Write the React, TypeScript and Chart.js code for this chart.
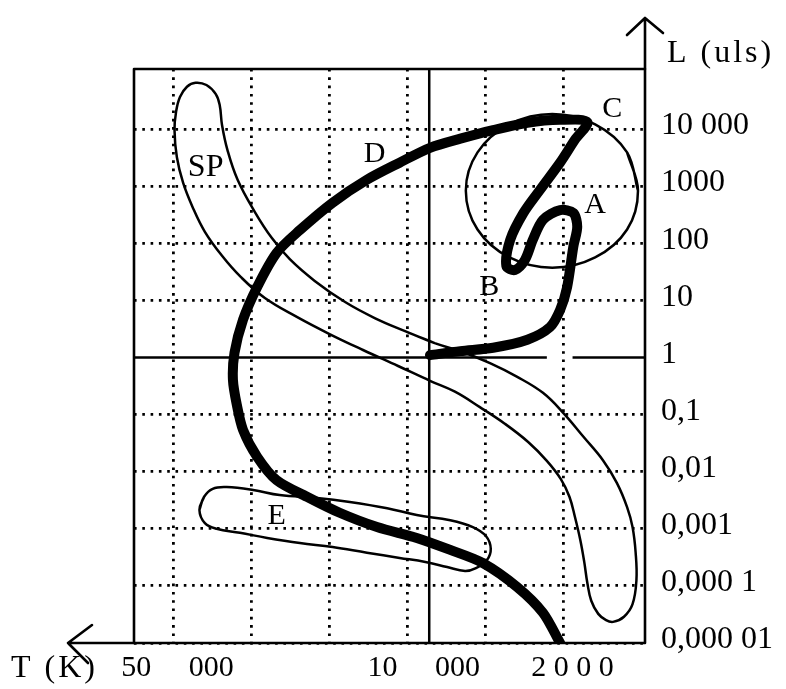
import React, { useEffect, useRef } from "react";
import { Chart, registerables } from "chart.js";

Chart.register(...registerables);

const FONT = "'Liberation Serif', 'Times New Roman', Times, serif";

// x: schematic temperature position (grid units, temperature decreasing to the right)
// y: log10 of luminosity L (solar units)
const xMin = -0.51;
const xMax = 6.05;
const yMin = -5;
const yMax = 5.05;

const xGridValues = [0, 1, 2, 3, 4, 5];
const xTickValues = [0.05, 3.21, 5.12];
const xTickLabels = ["50     000", "10     000", "2 0 0 0"];

const yTickValues = [-5, -4, -3, -2, -1, 0, 1, 2, 3, 4];
const yTickLabels = ["0,000 01", "0,000 1", "0,001", "0,01", "0,1", "1", "10", "100", "1000", "10 000"];

// thick evolutionary track (from the Sun point through A, B, C, D, E)
const evolutionTrack: number[][] = [
  [3.29, 0.04], [3.68, 0.11], [4.10, 0.17], [4.54, 0.31], [4.83, 0.53], [4.96, 0.83],
  [5.05, 1.23], [5.13, 1.94], [5.18, 2.29], [5.13, 2.53], [4.96, 2.58], [4.74, 2.41],
  [4.61, 2.06], [4.51, 1.71], [4.38, 1.53], [4.27, 1.60], [4.32, 2.06], [4.49, 2.53],
  [4.70, 2.93], [4.96, 3.41], [5.15, 3.81], [5.31, 4.12], [4.96, 4.16], [4.54, 4.11],
  [4.10, 3.98], [3.68, 3.83], [3.29, 3.67], [2.90, 3.41], [2.48, 3.11], [2.04, 2.71],
  [1.62, 2.23], [1.32, 1.83], [1.07, 1.23], [0.89, 0.66], [0.78, 0.08], [0.76, -0.39],
  [0.81, -0.83], [0.89, -1.27], [1.07, -1.74], [1.32, -2.15], [1.71, -2.44], [2.13, -2.72],
  [2.61, -2.97], [3.12, -3.16], [3.55, -3.37], [3.97, -3.60], [4.41, -4.02], [4.74, -4.47],
  [4.96, -5.0],
];

// SP band outline (closed)
const spBand: number[][] = [
  [3.35, 0.25], [2.97, 0.46], [2.58, 0.69], [2.20, 0.97], [1.81, 1.34], [1.49, 1.72],
  [1.26, 2.09], [1.04, 2.55], [0.82, 3.11], [0.69, 3.63], [0.62, 4.07], [0.59, 4.42],
  [0.54, 4.61], [0.42, 4.77], [0.28, 4.81], [0.17, 4.74], [0.08, 4.56], [0.03, 4.30],
  [0.01, 3.98], [0.04, 3.51], [0.12, 3.06], [0.24, 2.64], [0.40, 2.20], [0.62, 1.78],
  [0.86, 1.41], [1.17, 1.04], [1.58, 0.71], [2.00, 0.41], [2.43, 0.13], [2.88, -0.15],
  [3.29, -0.41], [3.61, -0.60], [3.93, -0.87], [4.25, -1.16], [4.55, -1.48], [4.79, -1.81],
  [4.97, -2.13], [5.08, -2.44], [5.15, -2.79], [5.22, -3.20], [5.27, -3.58], [5.31, -3.95],
  [5.36, -4.26], [5.45, -4.49], [5.55, -4.60], [5.64, -4.63], [5.78, -4.54], [5.89, -4.32],
  [5.94, -3.90], [5.93, -3.42], [5.89, -2.97], [5.82, -2.62], [5.69, -2.20], [5.51, -1.80],
  [5.26, -1.39], [5.00, -0.97], [4.74, -0.62], [4.41, -0.34], [4.06, -0.10], [3.70, 0.10],
];

// E band outline (closed)
const eBand: number[][] = [
  [0.33, -2.67], [0.39, -2.44], [0.50, -2.30], [0.68, -2.27], [1.02, -2.32], [1.36, -2.41],
  [1.84, -2.46], [2.26, -2.53], [2.74, -2.64], [3.12, -2.76], [3.55, -2.85], [3.84, -2.97],
  [4.01, -3.13], [4.07, -3.35], [4.02, -3.55], [3.88, -3.69], [3.74, -3.74], [3.51, -3.67],
  [3.23, -3.58], [2.90, -3.51], [2.48, -3.42], [2.04, -3.32], [1.62, -3.25], [1.20, -3.16],
  [0.85, -3.07], [0.55, -3.00], [0.40, -2.90],
];

// circle around A-B-C region (closed)
const circleABC: number[][] = [
  [5.96, 2.92], [5.82, 3.59], [5.41, 4.08], [4.86, 4.26], [4.31, 4.08], [3.90, 3.59],
  [3.75, 2.92], [3.90, 2.24], [4.31, 1.75], [4.86, 1.57], [5.41, 1.75], [5.82, 2.24],
];

// solid reference lines
const refVertical: number[][] = [[3.28, -5], [3.28, 5.05]];
const refL1Left: number[][] = [[-0.51, 0], [4.79, 0]];
const refL1Right: number[][] = [[5.12, 0], [6.05, 0]];

const labelTexts = ["A", "B", "C", "D", "E", "SP"];
const labelX = [5.41, 4.05, 5.63, 2.58, 1.32, 0.41];
const labelLogL = [2.71, 1.27, 4.39, 3.6, -2.74, 3.35];

const toXY = (pts: number[][]) => pts.map((p) => ({ x: p[0], y: p[1] }));
const closeLoop = (pts: number[][]) => toXY([...pts, pts[0], pts[1]]);

const decorPlugin = {
  id: "decor",
  beforeDatasetsDraw(chart: any) {
    const { ctx, chartArea: a } = chart;
    ctx.save();
    ctx.strokeStyle = "#000";
    ctx.lineWidth = 2.6;
    ctx.lineCap = "round";
    ctx.lineJoin = "round";
    ctx.strokeRect(a.left, a.top, a.right - a.left, a.bottom - a.top);
    ctx.beginPath();
    ctx.moveTo(a.left, a.bottom);
    ctx.lineTo(a.left - 66, a.bottom);
    ctx.moveTo(a.left - 42, a.bottom - 18);
    ctx.lineTo(a.left - 66, a.bottom);
    ctx.lineTo(a.left - 46, a.bottom + 20);
    ctx.moveTo(a.right, a.top);
    ctx.lineTo(a.right, a.top - 51);
    ctx.moveTo(a.right - 18, a.top - 34);
    ctx.lineTo(a.right, a.top - 51);
    ctx.lineTo(a.right + 18, a.top - 36);
    ctx.stroke();
    ctx.restore();
  },
  afterDatasetsDraw(chart: any) {
    const { ctx, chartArea: a } = chart;
    const xs = chart.scales.x;
    const ys = chart.scales.y;
    ctx.save();
    ctx.fillStyle = "#000";
    ctx.textAlign = "center";
    ctx.textBaseline = "alphabetic";
    labelTexts.forEach((t, i) => {
      ctx.font = `${t.length > 1 ? 32 : 30}px ${FONT}`;
      ctx.fillText(t, xs.getPixelForValue(labelX[i]), ys.getPixelForValue(labelLogL[i]) + 10);
    });
    ctx.textAlign = "left";
    ctx.font = `32px ${FONT}`;
    try { (ctx as any).letterSpacing = "3px"; } catch (e) {}
    ctx.fillText("T (K)", 11, a.bottom + 34);
    ctx.fillText("L (uls)", a.right + 22, a.top - 7);
    ctx.restore();
  },
};

export default function App() {
  const ref = useRef<HTMLCanvasElement | null>(null);

  useEffect(() => {
    if (!ref.current) return;
    const thin = { borderColor: "#000", borderWidth: 2.5, pointRadius: 0, showLine: true, fill: false };
    const chart = new Chart(ref.current, {
      type: "scatter",
      data: {
        datasets: [
          { ...thin, data: toXY(refVertical), tension: 0 },
          { ...thin, data: toXY(refL1Left), tension: 0 },
          { ...thin, data: toXY(refL1Right), tension: 0 },
          { ...thin, data: closeLoop(spBand), tension: 0.4 },
          { ...thin, data: closeLoop(eBand), tension: 0.4 },
          { ...thin, data: closeLoop(circleABC), tension: 0.35 },
          {
            data: toXY(evolutionTrack),
            borderColor: "#000",
            borderWidth: 10,
            pointRadius: 0,
            showLine: true,
            fill: false,
            tension: 0.3,
            borderCapStyle: "round",
            borderJoinStyle: "round",
          },
        ],
      } as any,
      options: {
        animation: false,
        responsive: false,
        devicePixelRatio: 1,
        layout: { padding: { left: 134, top: 69, right: 0, bottom: 0 } },
        plugins: { legend: { display: false }, tooltip: { enabled: false } },
        events: [],
        scales: {
          x: {
            type: "linear",
            position: "bottom",
            min: xMin,
            max: xMax,
            afterBuildTicks: (s: any) => {
              s.ticks = xGridValues.map((v) => ({ value: v }));
            },
            ticks: { display: false },
            grid: { color: "#000", lineWidth: 2.8, drawTicks: false },
            border: { display: false, dash: [2.6, 5.7] },
          },
          xT: {
            type: "linear",
            position: "bottom",
            min: xMin,
            max: xMax,
            afterBuildTicks: (s: any) => {
              s.ticks = xTickValues.map((v) => ({ value: v }));
            },
            afterFit: (s: any) => {
              s.height = 46;
            },
            ticks: {
              autoSkip: false,
              maxRotation: 0,
              padding: 7,
              color: "#000",
              font: { family: FONT, size: 30 },
              callback: (v: any, i: number) => xTickLabels[i],
            },
            grid: { display: false, drawTicks: false },
            border: { display: false },
          },
          y: {
            type: "linear",
            position: "right",
            min: yMin,
            max: yMax,
            afterBuildTicks: (s: any) => {
              s.ticks = yTickValues.map((v) => ({ value: v }));
            },
            afterFit: (s: any) => {
              s.width = 141;
            },
            ticks: {
              padding: 16,
              labelOffset: -3,
              color: "#000",
              font: { family: FONT, size: 32 },
              callback: (v: any) => yTickLabels[yTickValues.indexOf(Number(v))],
            },
            grid: {
              color: (c: any) => (c.tick && c.tick.value === 0 ? "rgba(0,0,0,0)" : "#000"),
              lineWidth: 2.8,
              drawTicks: false,
            },
            border: { display: false, dash: [2.6, 5.7] },
          },
        },
      } as any,
      plugins: [decorPlugin],
    });
    return () => chart.destroy();
  }, []);

  return (
    <div style={{ position: "fixed", left: 0, top: 0, width: 786, height: 689, background: "#fff" }}>
      <canvas ref={ref} width={786} height={689} style={{ display: "block" }} />
    </div>
  );
}
